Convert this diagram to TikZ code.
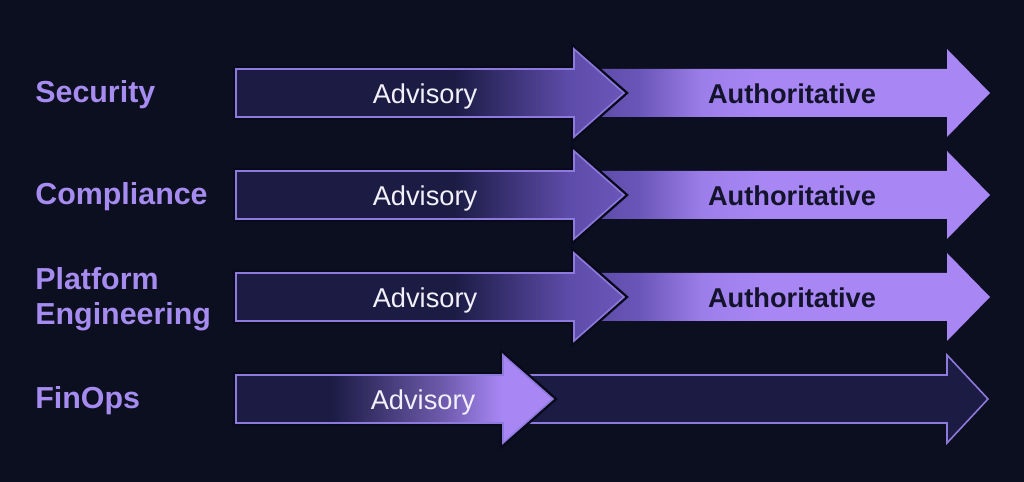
\documentclass[tikz,border=0pt]{standalone}
\usepackage{fontspec}
\setmainfont{Liberation Sans}
\usepackage{tikz}
\usepackage{xcolor}
\usetikzlibrary{shadings}

\definecolor{bgnavy}{HTML}{0C0F1F}
\definecolor{shaftdark}{HTML}{1B1B44}
\definecolor{midpurple}{HTML}{5E4CAA}
\definecolor{deeppurple}{HTML}{6A56B8}
\definecolor{lightpurple}{HTML}{A887F5}
\definecolor{labelpurple}{HTML}{A68CF0}
\definecolor{rimpurple}{HTML}{8E7ADC}
\definecolor{halodark}{HTML}{08091A}
\definecolor{softwhite}{HTML}{F2F0FA}
\definecolor{inkdark}{HTML}{13132C}

% the box of a shading is 100bp wide, the path is fitted to 25bp..75bp
\pgfdeclarehorizontalshading{advshade}{100bp}{color(0bp)=(shaftdark); color(25bp)=(shaftdark); color(53bp)=(shaftdark); color(68bp)=(midpurple); color(75bp)=(deeppurple); color(100bp)=(deeppurple)}
\pgfdeclarehorizontalshading{authshade}{100bp}{color(0bp)=(midpurple); color(25bp)=(midpurple); color(30bp)=(deeppurple); color(38bp)=(lightpurple!80!deeppurple); color(46bp)=(lightpurple); color(100bp)=(lightpurple)}
\pgfdeclarehorizontalshading{finshade}{100bp}{color(0bp)=(shaftdark); color(25bp)=(shaftdark); color(40bp)=(shaftdark); color(58bp)=(lightpurple!60!shaftdark); color(67bp)=(lightpurple); color(100bp)=(lightpurple)}

% arrow outline: start x, head base x, tip x, middle y
\newcommand{\bigarrow}[4]{(#1,{#4-24}) -- (#2,{#4-24}) -- (#2,{#4-44}) -- (#3,#4) -- (#2,{#4+44}) -- (#2,{#4+24}) -- (#1,{#4+24}) -- cycle}

\tikzset{%
	rowlabel/.style = {anchor=west, text=labelpurple, font=\bfseries\fontsize{17.3}{19.6}\selectfont, align=left, inner sep=0pt},
	advtext/.style  = {anchor=base, text=softwhite, font=\fontsize{15.5}{18}\selectfont, inner sep=0pt},
	authtext/.style = {anchor=base, text=inkdark, font=\bfseries\fontsize{15.5}{18}\selectfont, inner sep=0pt},
	halo/.style     = {draw=halodark, line width=3.6pt, line join=miter},
	rim/.style      = {draw=rimpurple, line width=0.9pt, line join=miter},
}

\begin{document}
\begin{tikzpicture}[x=0.02cm,y=-0.02cm]
		\fill[bgnavy] (0,0) rectangle (1024,482);
		
		% Security
		\shade[shading=authshade] \bigarrow{600}{947}{990}{93};
		\draw[halo] \bigarrow{236}{574}{624}{93};
		\shadedraw[shading=advshade,rim] \bigarrow{236}{574}{624}{93};
		\node[rowlabel] (sec) at (35,95) {Security};
		\node[advtext] (sec-adv) at (425,104) {Advisory};
		\node[authtext] (sec-auth) at (792,104) {Authoritative};
		
		% Compliance
		\shade[shading=authshade] \bigarrow{600}{947}{990}{195};
		\draw[halo] \bigarrow{236}{574}{624}{195};
		\shadedraw[shading=advshade,rim] \bigarrow{236}{574}{624}{195};
		\node[rowlabel] (comp) at (35,197) {Compliance};
		\node[advtext] (comp-adv) at (425,206) {Advisory};
		\node[authtext] (comp-auth) at (792,206) {Authoritative};
		
		% Platform Engineering
		\shade[shading=authshade] \bigarrow{600}{947}{990}{297};
		\draw[halo] \bigarrow{236}{574}{624}{297};
		\shadedraw[shading=advshade,rim] \bigarrow{236}{574}{624}{297};
		\node[rowlabel] (plat) at (35,299) {Platform\\Engineering};
		\node[advtext] (plat-adv) at (425,308) {Advisory};
		\node[authtext] (plat-auth) at (792,308) {Authoritative};
		
		% FinOps, second arrow stays empty
		\draw[rim,fill=shaftdark] \bigarrow{530}{947}{988}{399};
		\draw[halo] \bigarrow{236}{503}{553}{399};
		\shadedraw[shading=finshade,rim] \bigarrow{236}{503}{553}{399};
		\node[rowlabel] (fin) at (35,401) {FinOps};
		\node[advtext] (fin-adv) at (423,410) {Advisory};
\end{tikzpicture}
\end{document}
